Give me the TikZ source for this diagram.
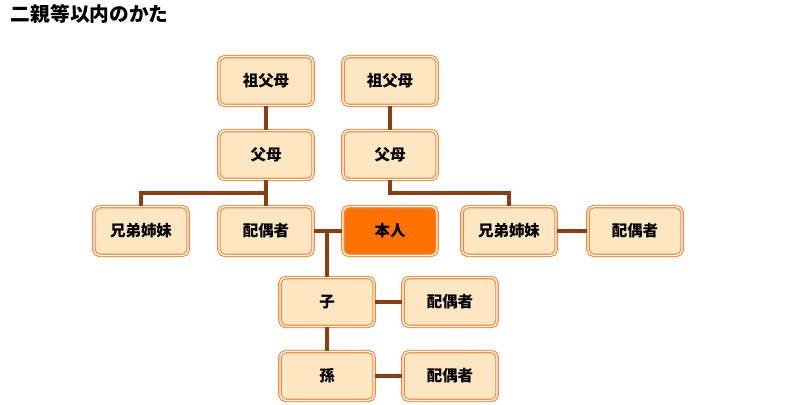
\documentclass[tikz,border=0pt]{standalone}
\usepackage{fontspec}
\setmainfont{Noto Sans CJK JP}
\usetikzlibrary{positioning}
\definecolor{boxfill}{HTML}{FDE6C2}
\definecolor{boxline}{HTML}{F2893A}
\definecolor{selffill}{HTML}{FF7200}
\definecolor{linkline}{HTML}{8B3E14}

\begin{document}
\begin{tikzpicture}[x=0.025cm,y=-0.025cm,
    person/.style={draw=boxline, double=white, double distance=0.9pt, line width=0.8pt, rounded corners=4pt, fill=boxfill, minimum width=2.35cm, minimum height=1.22cm, font=\bfseries\fontsize{11}{13}\selectfont},
    self/.style={person, fill=selffill},
    link/.style={draw=linkline, line width=2.2pt}]
            \useasboundingbox (0,0) rectangle (800,404);
            \node[anchor=west, font=\bfseries\fontsize{14}{16}\selectfont] (title) at (6,14) {二親等以内のかた};
            % grandparents and parents
            \node[person] (gp1) at (266,81) {祖父母};
            \node[person] (gp2) at (390,81) {祖父母};
            \node[person] (pa1) at (266,155) {父母};
            \node[person] (pa2) at (390,155) {父母};
            % own generation
            \node[person] (sib1) at (141,231) {兄弟姉妹};
            \node[person] (sp1) at (266,231) {配偶者};
            \node[self] (me) at (390,231) {本人};
            \node[person] (sib2) at (509,231) {兄弟姉妹};
            \node[person] (sp2) at (635,231) {配偶者};
            % descendants
            \node[person] (child) at (327,302) {子};
            \node[person] (sp3) at (450,302) {配偶者};
            \node[person] (grand) at (327,376) {孫};
            \node[person] (sp4) at (450,376) {配偶者};
            \coordinate (bar1) at (141,193);
            \coordinate (bar2) at (509,193);
            \coordinate (knot) at (327,231);

            \draw[link] (gp1) -- (pa1);
            \draw[link] (gp2) -- (pa2);
            \draw[link] (pa1) -- (sp1);
            \draw[link] (sib1) -- (bar1) -- (pa1.center |- bar1);
            \draw[link] (pa2) |- (bar2) -- (sib2);
            \draw[link] (sib2) -- (sp2);
            \draw[link] (sp1) -- (me);
            \draw[link] (knot) -- (child);
            \draw[link] (child) -- (grand);
            \draw[link] (child) -- (sp3);
            \draw[link] (grand) -- (sp4);
        \end{tikzpicture}
\end{document}
